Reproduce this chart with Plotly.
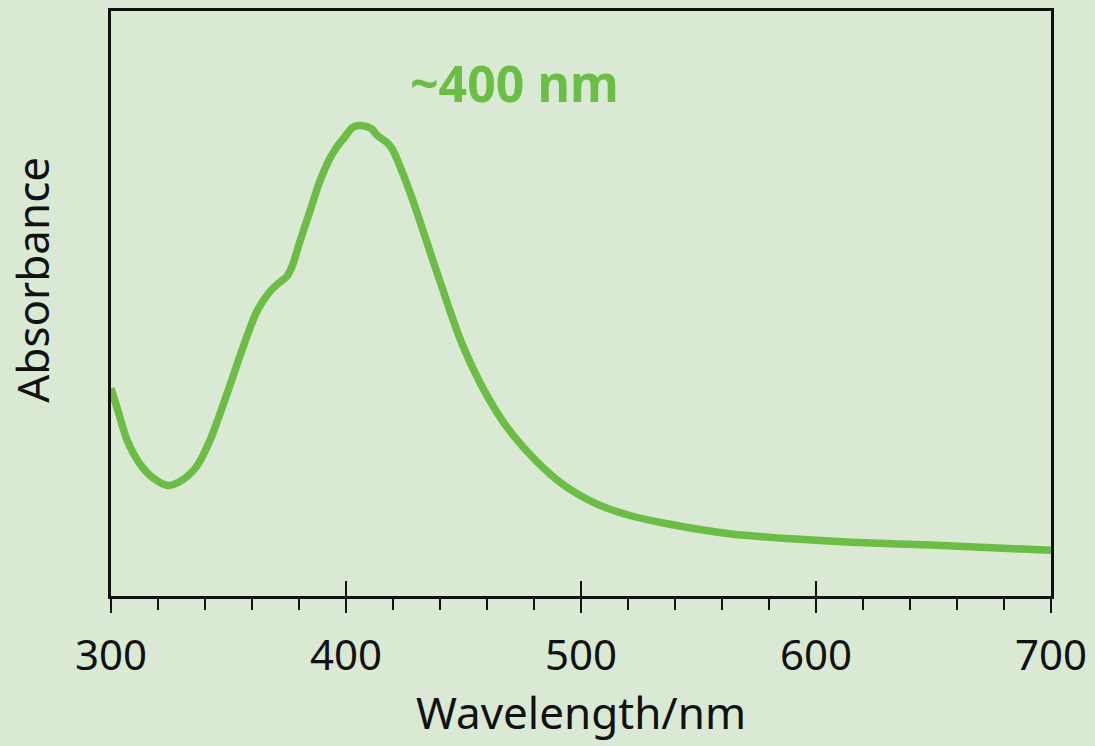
import plotly.graph_objects as go

wavelength = [300, 303, 307, 312.3, 317.8, 324.2, 330.6, 336.5, 342, 349.3, 356, 362, 367.5,
              372, 374.5, 377, 380.3, 384.5, 388.7, 393, 396, 399.4, 402.8, 407, 410.8,
              413.4, 417.2, 419.7, 424, 428.2, 432.5, 436.7, 441, 444.8, 449.5, 456.7,
              463.9, 470.7, 480.9, 491.9, 506.4, 520.4, 536.1, 564.1, 592.6, 621, 649,
              677.5, 700]
absorbance = [0.355, 0.316, 0.265, 0.226, 0.202, 0.189, 0.199, 0.222, 0.265, 0.345, 0.423,
              0.486, 0.520, 0.537, 0.545, 0.563, 0.605, 0.656, 0.707, 0.747, 0.767, 0.784,
              0.801, 0.804, 0.799, 0.787, 0.776, 0.764, 0.724, 0.679, 0.628, 0.577, 0.526,
              0.481, 0.430, 0.367, 0.316, 0.277, 0.231, 0.192, 0.158, 0.138, 0.124, 0.106,
              0.097, 0.091, 0.087, 0.082, 0.078]
x_ticks = [300, 400, 500, 600, 700]
peak_label = "~400 nm"

BG = "#d9e9d3"
GREEN = "#6cbd45"
INK = "#111111"
FONT = "Noto Sans"

fig = go.Figure()
fig.add_trace(go.Scatter(x=wavelength, y=absorbance, mode="lines",
                         line=dict(color=GREEN, width=7.5, shape="spline", smoothing=0.8),
                         hoverinfo="skip", showlegend=False))
# same data on the overlay axis so its inner major ticks are drawn (kept invisible)
fig.add_trace(go.Scatter(x=wavelength, y=absorbance, xaxis="x2", mode="lines",
                         line=dict(color=GREEN, width=0), opacity=0,
                         hoverinfo="skip", showlegend=False))

fig.update_layout(
    width=1095, height=746, autosize=False,
    paper_bgcolor=BG, plot_bgcolor=BG,
    margin=dict(l=111, r=42, t=8, b=150),
    font=dict(family=FONT, color=INK),
    xaxis=dict(range=[300, 700], tickvals=x_ticks, ticktext=[str(v) for v in x_ticks],
               ticks="outside", ticklen=14, tickwidth=2, tickcolor=INK,
               minor=dict(dtick=20, ticks="outside", ticklen=11, tickwidth=2, tickcolor=INK),
               showline=True, linecolor=INK, linewidth=2.5, mirror=True,
               showgrid=False, zeroline=False, ticklabelstandoff=7,
               tickfont=dict(size=42, family=FONT, color=INK),
               title=dict(text="Wavelength/nm", font=dict(size=44, family=FONT, color=INK),
                          standoff=17)),
    xaxis2=dict(range=[300, 700], overlaying="x", side="bottom", anchor="y",
                tickvals=x_ticks, ticks="inside", ticklen=15, tickwidth=2, tickcolor=INK,
                showticklabels=False, showgrid=False, zeroline=False, showline=False),
    yaxis=dict(range=[0, 1], showticklabels=False, ticks="", showgrid=False, zeroline=False,
               showline=True, linecolor=INK, linewidth=2.5, mirror=True),
    annotations=[
        dict(text="Absorbance", textangle=-90, xref="paper", yref="paper",
             x=-80 / 942, y=(596 - 278) / 588, xanchor="center", yanchor="middle",
             showarrow=False, font=dict(size=44, family=FONT, color=INK)),
        dict(text="<b>" + peak_label + "</b>", xref="paper", yref="paper",
             x=(515 - 111) / 942, y=(596 - 80) / 588, xanchor="center", yanchor="middle",
             showarrow=False, font=dict(size=50, family=FONT, color=GREEN)),
    ],
)

fig.write_html("out.html")
